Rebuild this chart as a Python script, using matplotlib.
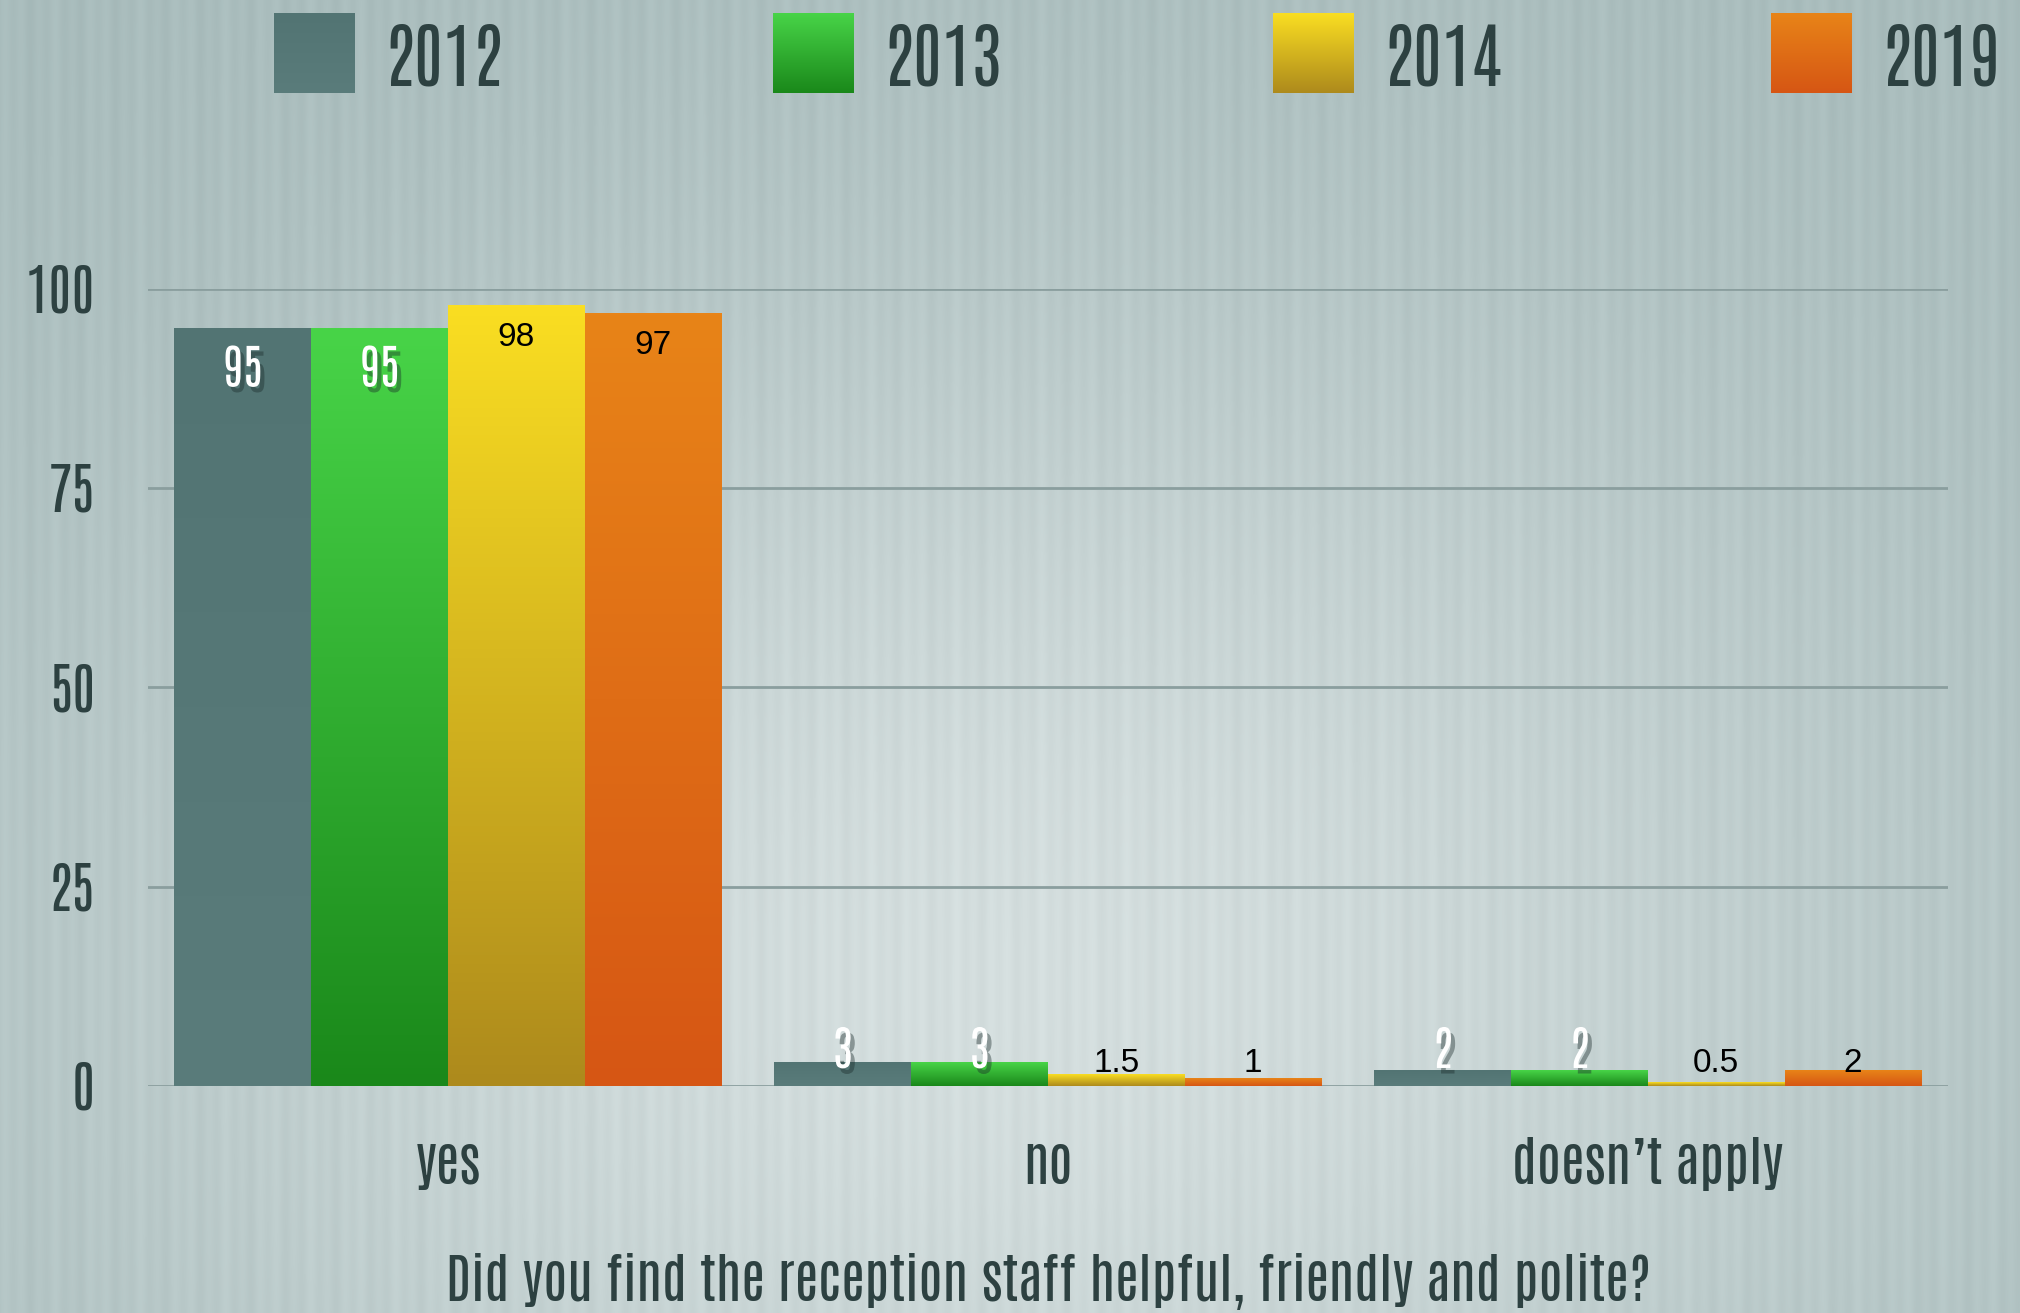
import numpy as np
import matplotlib
matplotlib.use('Agg')
import matplotlib.pyplot as plt
from matplotlib import patheffects as pe
from matplotlib.colors import LinearSegmentedColormap

# data
categories = ['yes', 'no', 'doesn’t apply']
years = ['2012', '2013', '2014', '2019']
values = {
    '2012': [95, 3, 2],
    '2013': [95, 3, 2],
    '2014': [98, 1.5, 0.5],
    '2019': [97, 1, 2],
}
yticks = [0, 25, 50, 75, 100]
title = 'Did you find the reception staff helpful, friendly and polite?'

# bar colours (top, bottom)
grads = {
    '2012': ('#527473', '#5a7c7b'),
    '2013': ('#48d448', '#1a881a'),
    '2014': ('#fade22', '#ad8a1c'),
    '2019': ('#e88418', '#d65614'),
}
txt_dark = '#2d4141'
cond = ['Antonio', 'DejaVu Sans']   # narrow face, falls back to DejaVu

W, H = 2020, 1313
fig = plt.figure(figsize=(W / 100, H / 100), dpi=100)

# background: soft light centre and vertical stripes
bgax = fig.add_axes([0, 0, 1, 1], zorder=-10)
xx, yy = np.meshgrid(np.linspace(0, 1, W), np.linspace(0, 1, H))
light = np.exp(-((xx - 0.5) / 0.48) ** 2 - ((yy - 0.75) / 0.55) ** 2)
stripes = 0.5 * np.sin(2 * np.pi * np.arange(W) / 17.0) + 0.3 * np.sin(2 * np.pi * np.arange(W) / 43.0)
base = np.array([166, 186, 186]) / 255
top = np.array([212, 222, 222]) / 255
bg = base + (top - base) * light[..., None]
bg = bg + (stripes[None, :, None] * 5 / 255)
bgax.imshow(np.clip(bg, 0, 1), aspect='auto', extent=(0, 1, 0, 1), origin='upper')
bgax.axis('off')

ax = fig.add_axes([0.0733, 0.1729, 0.891, 0.6073])
ax.patch.set_visible(False)
for s in ax.spines.values():
    s.set_visible(False)

x = np.arange(len(categories))
width = 0.228
grad = np.linspace(0, 1, 256).reshape(-1, 1)
shadow = [pe.SimplePatchShadow(offset=(3, -4), shadow_rgbFace='#1a2a2a', alpha=0.4), pe.Normal()]
for i, yr in enumerate(years):
    off = (i - 1.5) * width
    cmap = LinearSegmentedColormap.from_list(yr, [grads[yr][1], grads[yr][0]])
    bars = ax.bar(x + off, values[yr], width, color=grads[yr][0], zorder=2, linewidth=0)
    for b, v in zip(bars, values[yr]):
        x0 = b.get_x()
        im = ax.imshow(grad, extent=(x0, x0 + width, 0, v), origin='lower', cmap=cmap,
                       aspect='auto', zorder=3)
        im.set_clip_path(b)
        white = yr in ('2012', '2013')
        lab = '%g' % v
        if v > 20:
            ypos, dy = v, (-58 if white else -41)
        else:
            ypos, dy = 0, (18 if white else 14)
        if white:
            ax.annotate(lab, (x0 + width / 2, ypos), xytext=(0, dy), textcoords='offset pixels',
                        ha='center', va='baseline', color='white', fontsize=34, zorder=5,
                        family=cond, path_effects=shadow)
        else:
            ax.annotate(lab, (x0 + width / 2, ypos), xytext=(0, dy), textcoords='offset pixels',
                        ha='center', va='baseline', color='black', fontsize=24, zorder=5,
                        family='Liberation Sans')

ax.set_xlim(-0.5, 2.5)
ax.set_ylim(0, 100)
ax.set_yticks(yticks)
ax.yaxis.grid(True, color='#8a9e9e', linewidth=2, zorder=1)
ax.set_axisbelow(True)
ax.tick_params(axis='both', length=0)
ax.tick_params(axis='y', pad=38)
ax.set_yticklabels([str(t) for t in yticks], color=txt_dark, fontsize=40, family=cond)
ax.set_xticks(x)
ax.set_xticklabels(categories, color=txt_dark, fontsize=39, family=cond)
ax.tick_params(axis='x', pad=37)
fig.text(0.519, 0.0091, title, ha='center', va='baseline', color=txt_dark, fontsize=39, family=cond)

# legend drawn in pixel space
lax = fig.add_axes([0, 0, 1, 1], zorder=5)
lax.axis('off')
lax.patch.set_visible(False)
leg_x = [274, 773, 1273, 1771]
for yr, lx in zip(years, leg_x):
    cmap = LinearSegmentedColormap.from_list(yr + 'l', [grads[yr][1], grads[yr][0]])
    lax.imshow(grad, extent=(lx, lx + 81, 93, 13), origin='lower', cmap=cmap, aspect='auto')
    lax.text(lx + 110, 86, yr, ha='left', va='baseline', color=txt_dark, fontsize=51, family=cond)
lax.set_xlim(0, W)
lax.set_ylim(H, 0)

fig.savefig('out.png', dpi=100)
